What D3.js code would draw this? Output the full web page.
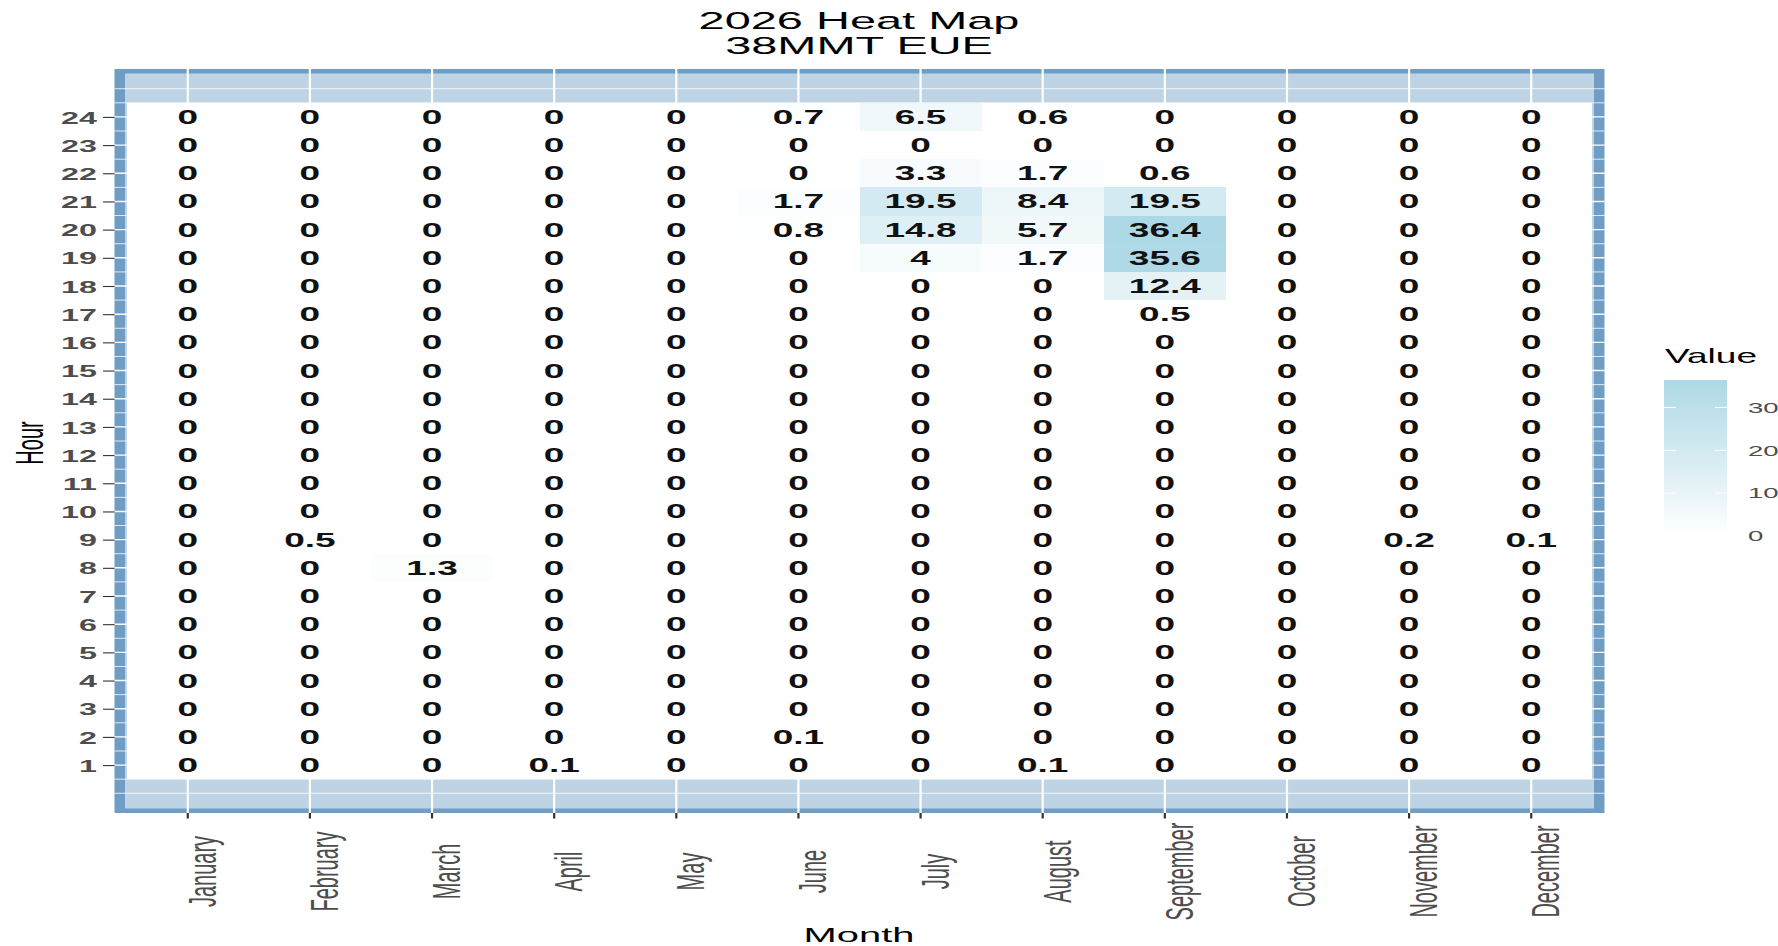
<!DOCTYPE html>
<html>
<head>
<meta charset="utf-8">
<script src="https://cdn.jsdelivr.net/npm/d3@7"></script>
<style>
  html, body { margin: 0; padding: 0; background: #ffffff; }
  svg { display: block; }
  text { font-family: "Liberation Sans", Arial, sans-serif; }
</style>
</head>
<body>
<svg id="chart" width="1778" height="946"></svg>
<script>
// ---------------- data ----------------
const titleLines = ["2026 Heat Map", "38MMT EUE"];
const months = ["January","February","March","April","May","June","July","August","September","October","November","December"];
const hours = d3.range(1, 25); // 1..24
// values per month, index 0 = hour 1 ... index 23 = hour 24
const january   = [0,0,0,0,0,0,0,0,0,0,0,0,0,0,0,0,0,0,0,0,0,0,0,0];
const february  = [0,0,0,0,0,0,0,0,0.5,0,0,0,0,0,0,0,0,0,0,0,0,0,0,0];
const march     = [0,0,0,0,0,0,0,1.3,0,0,0,0,0,0,0,0,0,0,0,0,0,0,0,0];
const april     = [0.1,0,0,0,0,0,0,0,0,0,0,0,0,0,0,0,0,0,0,0,0,0,0,0];
const may       = [0,0,0,0,0,0,0,0,0,0,0,0,0,0,0,0,0,0,0,0,0,0,0,0];
const june      = [0,0.1,0,0,0,0,0,0,0,0,0,0,0,0,0,0,0,0,0,0.8,1.7,0,0,0.7];
const july      = [0,0,0,0,0,0,0,0,0,0,0,0,0,0,0,0,0,0,4,14.8,19.5,3.3,0,6.5];
const august    = [0.1,0,0,0,0,0,0,0,0,0,0,0,0,0,0,0,0,0,1.7,5.7,8.4,1.7,0,0.6];
const september = [0,0,0,0,0,0,0,0,0,0,0,0,0,0,0,0,0.5,12.4,35.6,36.4,19.5,0.6,0,0];
const october   = [0,0,0,0,0,0,0,0,0,0,0,0,0,0,0,0,0,0,0,0,0,0,0,0];
const november  = [0,0,0,0,0,0,0,0,0.2,0,0,0,0,0,0,0,0,0,0,0,0,0,0,0];
const december  = [0,0,0,0,0,0,0,0,0.1,0,0,0,0,0,0,0,0,0,0,0,0,0,0,0];
const legendTicks = [0, 10, 20, 30];

const monthValues = [january,february,march,april,may,june,july,august,september,october,november,december];
const cells = [];
months.forEach((m, i) => hours.forEach((h, j) => cells.push({month: m, hour: h, value: monthValues[i][j]})));

// ---------------- layout ----------------
const SX = 1.9; // horizontal stretch of all text
const panelL = 114.5, panelR = 1604.5, panelT = 69, panelB = 813;
const svg = d3.select("#chart");

const x = d3.scaleBand().domain(months).range([panelL, panelR]).paddingInner(0).paddingOuter(0.1);
const y = d3.scaleLinear().domain([-0.7, 25.7]).range([panelB, panelT]);
const vmax = d3.max(cells, d => d.value);
const color = d3.scaleLinear().domain([0, vmax]).range(["white", "lightblue"]).interpolate(d3.interpolateLab);

// panel background (dark frame + light fill)
svg.append("rect").attr("x", panelL).attr("y", panelT).attr("width", panelR - panelL).attr("height", panelB - panelT)
  .attr("fill", "#6f9dc4");
svg.append("rect").attr("x", panelL + 10.5).attr("y", panelT + 4.5).attr("width", panelR - panelL - 21).attr("height", panelB - panelT - 9)
  .attr("fill", "#bed3e3");

// grid
const grid = svg.append("g");
const minor = d3.range(0, 25.5, 0.5).filter(v => !hours.includes(v));
grid.selectAll(".ymin").data(minor).join("line")
  .attr("x1", panelL).attr("x2", panelR).attr("y1", d => y(d)).attr("y2", d => y(d))
  .attr("stroke", "white").attr("stroke-width", 0.8);
grid.selectAll(".ymaj").data(hours).join("line")
  .attr("x1", panelL).attr("x2", panelR).attr("y1", d => y(d)).attr("y2", d => y(d))
  .attr("stroke", "white").attr("stroke-width", 1.4);
grid.selectAll(".xmaj").data(months).join("line")
  .attr("x1", d => x(d) + x.bandwidth() / 2).attr("x2", d => x(d) + x.bandwidth() / 2)
  .attr("y1", panelT).attr("y2", panelB)
  .attr("stroke", "white").attr("stroke-width", 2.2);

// tiles
svg.append("g").selectAll("rect").data(cells).join("rect")
  .attr("x", d => x(d.month)).attr("width", x.bandwidth())
  .attr("y", d => y(d.hour + 0.5)).attr("height", d => y(d.hour - 0.5) - y(d.hour + 0.5))
  .attr("fill", d => color(d.value)).attr("shape-rendering", "crispEdges");

// cell labels
svg.append("g").selectAll("text").data(cells).join("text")
  .attr("transform", d => `translate(${x(d.month) + x.bandwidth() / 2},${y(d.hour)}) scale(${SX},1)`)
  .attr("text-anchor", "middle").attr("dy", "0.36em")
  .attr("font-size", 19.5).attr("font-weight", "bold").attr("fill", "#111")
  .text(d => String(d.value));

// y axis
const yAxis = svg.append("g").attr("transform", `translate(${panelL},0)`)
  .call(d3.axisLeft(y).tickValues(hours).tickSize(11.5).tickFormat(d3.format("d")));
yAxis.select(".domain").remove();
yAxis.selectAll(".tick line").attr("stroke", "#333").attr("stroke-width", 1.1);
yAxis.selectAll(".tick text")
  .attr("x", null).attr("dy", "0.36em")
  .attr("transform", `translate(-17.5,0) scale(${SX},1)`)
  .attr("text-anchor", "end").attr("font-size", 17).attr("font-weight", "bold")
  .attr("fill", "#4d4d4d").attr("font-family", null);

// x axis
const xAxis = svg.append("g").attr("transform", `translate(0,${panelB})`)
  .call(d3.axisBottom(x).tickSize(5.5));
xAxis.select(".domain").remove();
xAxis.selectAll(".tick line").attr("stroke", "#333").attr("stroke-width", 2.2);
xAxis.selectAll(".tick text")
  .attr("y", null).attr("dy", null)
  .attr("transform", `translate(28,58.5) scale(${SX},1) rotate(-90)`)
  .attr("text-anchor", "middle").attr("font-size", 20)
  .attr("fill", "#4d4d4d").attr("font-family", null);
svg.selectAll(".tick text").style("font-family", '"Liberation Sans", Arial, sans-serif');

// axis titles
svg.append("text").attr("transform", `translate(859,942) scale(${SX},1)`)
  .attr("text-anchor", "middle").attr("font-size", 21).attr("fill", "#000").text("Month");
svg.append("text").attr("transform", `translate(43,443) scale(${SX},1) rotate(-90)`)
  .attr("text-anchor", "middle").attr("font-size", 20).attr("fill", "#000").text("Hour");

// title
svg.append("g").selectAll("text").data(titleLines).join("text")
  .attr("transform", (d, i) => `translate(859,${29.3 + i * 24.7}) scale(${SX},1)`)
  .attr("text-anchor", "middle").attr("font-size", 24.7).attr("fill", "#000").text(d => d);

// legend
const legX = 1664, legW = 63;
const ly = d3.scaleLinear().domain([0, vmax]).range([536, 380]);
const defs = svg.append("defs");
const grad = defs.append("linearGradient").attr("id", "lg").attr("x1", 0).attr("y1", 1).attr("x2", 0).attr("y2", 0);
d3.range(0, 1.0001, 0.1).forEach(t => grad.append("stop").attr("offset", t).attr("stop-color", color(t * vmax)));
svg.append("text").attr("transform", `translate(1665,363) scale(${SX},1)`)
  .attr("font-size", 19.5).attr("fill", "#000").text("Value");
svg.append("rect").attr("x", legX).attr("y", ly(vmax)).attr("width", legW).attr("height", ly(0) - ly(vmax))
  .attr("fill", "url(#lg)");
const lt = svg.append("g");
lt.selectAll(".l1").data(legendTicks.filter(d => d > 0)).join("line")
  .attr("x1", legX).attr("x2", legX + 12).attr("y1", d => ly(d)).attr("y2", d => ly(d))
  .attr("stroke", "white").attr("stroke-width", 1);
lt.selectAll(".l2").data(legendTicks.filter(d => d > 0)).join("line")
  .attr("x1", legX + legW - 12).attr("x2", legX + legW).attr("y1", d => ly(d)).attr("y2", d => ly(d))
  .attr("stroke", "white").attr("stroke-width", 1);
svg.append("g").selectAll("text").data(legendTicks).join("text")
  .attr("transform", d => `translate(1748,${ly(d)}) scale(${SX},1)`)
  .attr("dy", "0.36em").attr("font-size", 14.5).attr("fill", "#4d4d4d").text(d => d);
</script>
</body>
</html>
